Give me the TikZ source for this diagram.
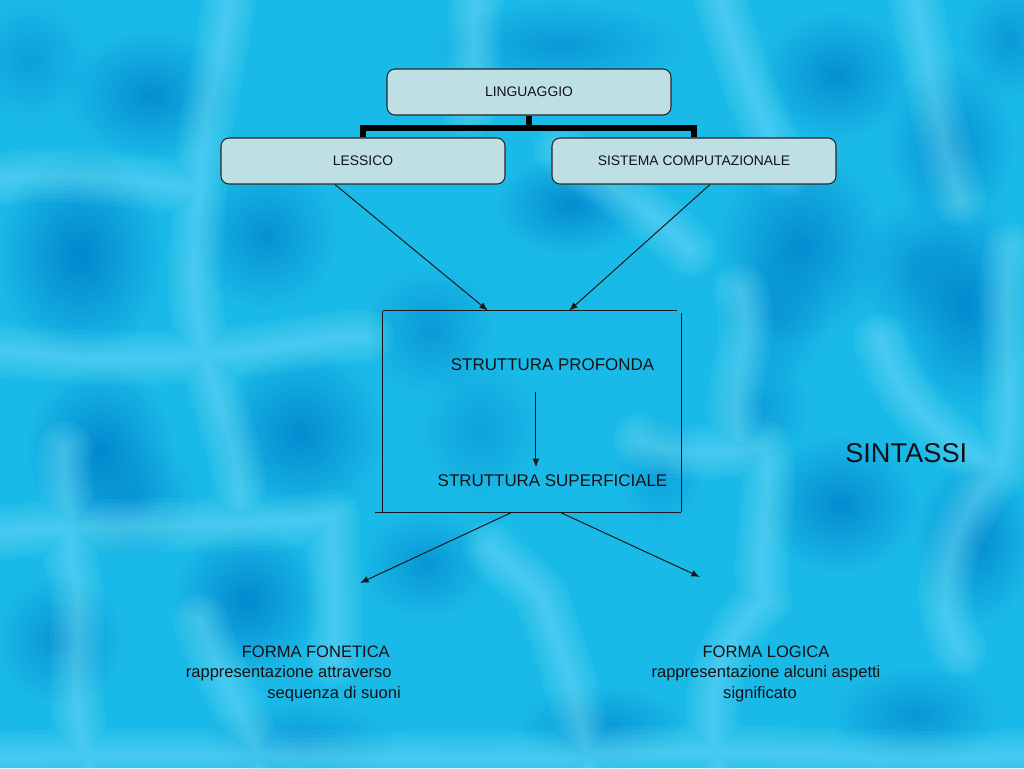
\documentclass[tikz,border=0pt]{standalone}
\usepackage{fontspec}
\setmainfont{Liberation Sans}
\usetikzlibrary{arrows.meta,fadings}
\tikzfading[name=blobfade, inner color=transparent!0, outer color=transparent!100]
\definecolor{bgbase}{RGB}{26,186,232}
\definecolor{blobdark}{RGB}{0,132,204}
\definecolor{veinlight}{RGB}{135,232,252}
\definecolor{boxfill}{RGB}{190,224,228}
\definecolor{textc}{RGB}{18,18,22}
\tikzset{
  topbox/.style={draw=black!85, fill=boxfill, rounded corners=6pt, line width=0.8pt,
    minimum width=213pt, minimum height=34.5pt, inner sep=0pt, text=textc,
    font=\fontsize{10.4}{12}\selectfont},
  bar/.style={line width=4.5pt, draw=black, line join=miter},
  arr/.style={draw=black!90, line width=0.75pt, -{Latex[length=6.5pt,width=5pt]}},
  frame/.style={draw=black!90, line width=0.75pt},
  midtext/.style={inner sep=0pt, text=textc, font=\fontsize{12.7}{15}\selectfont},
  lowtext/.style={inner sep=0pt, text=textc, font=\fontsize{12.4}{15}\selectfont},
  bigtext/.style={inner sep=0pt, text=textc, font=\fontsize{20.4}{24}\selectfont},
  blob/.style={fill=blobdark, path fading=blobfade},
  vein/.style={draw=veinlight, line cap=round, line join=round}
}
\begin{document}
\begin{tikzpicture}[x=0.75pt,y=-0.75pt]
\useasboundingbox (0,0) rectangle (1024,768);
% ---------- background ----------
\begin{scope}
\clip (0,0) rectangle (1024,768);
\fill[bgbase] (0,0) rectangle (1024,768);
\foreach \x/\y/\rx/\ry/\o in {
  150/95/85/65/0.8, 265/235/75/75/0.75, 80/255/85/105/0.95, 570/205/75/50/0.85,
  560/45/130/45/0.6, 836/75/75/65/0.8, 950/145/65/85/0.8, 800/245/85/95/0.85,
  965/305/65/105/0.9, 100/450/75/85/0.9, 300/433/85/85/0.85, 430/330/65/65/0.6,
  773/315/55/70/0.6, 917/268/60/70/0.6, 760/406/50/60/0.5, 840/504/80/70/0.85,
  975/540/60/85/0.85, 130/500/70/60/0.6, 247/600/75/75/0.9, 425/565/65/55/0.65,
  601/725/85/40/0.65, 915/715/85/50/0.65, 300/740/95/40/0.55, 60/640/65/65/0.7,
  660/470/45/60/0.45, 1010/40/50/60/0.6, 30/60/60/60/0.5, 480/430/60/70/0.45}
  {\fill[blob, fill opacity=\o] (\x,\y) ellipse [x radius=\rx, y radius=\ry];}
% soft light veins
\foreach \w in {54,46,38,30,22,14,7}{
  \draw[vein, line width=\w*0.75pt, draw opacity=0.075]
    (229,0) .. controls (220,70) and (200,130) .. (200,190)
            .. controls (195,260) and (190,300) .. (205,350)
    (0,180) .. controls (50,170) and (100,175) .. (200,190)
    (0,350) .. controls (80,360) and (150,360) .. (205,355)
            .. controls (280,350) and (330,335) .. (367,337)
    (205,355) .. controls (215,400) and (240,450) .. (240,500)
    (0,533) .. controls (100,520) and (250,530) .. (333,517)
    (333,517) .. controls (330,570) and (340,610) .. (333,660)
    (477,0) .. controls (470,40) and (480,80) .. (470,110)
    (720,0) .. controls (740,60) and (760,120) .. (785,170)
    (915,0) .. controls (930,70) and (940,140) .. (960,200)
    (65,448) .. controls (60,480) and (75,520) .. (70,560)
    (70,560) .. controls (90,620) and (60,680) .. (90,768)
    (490,548) .. controls (510,570) and (530,580) .. (542,598)
              .. controls (560,650) and (580,700) .. (588,768)
    (765,448) .. controls (775,500) and (755,550) .. (765,600)
    (765,600) .. controls (720,640) and (700,700) .. (720,768)
    (0,758) .. controls (250,750) and (450,765) .. (600,755)
            .. controls (750,745) and (900,765) .. (1024,755)
    (740,290) .. controls (760,340) and (720,390) .. (740,440)
    (1010,250) .. controls (1000,330) and (1020,400) .. (1000,470)
    (880,340) .. controls (900,400) and (940,440) .. (1000,470)
    (1000,470) .. controls (950,520) and (930,600) .. (960,650)
    (200,620) .. controls (220,680) and (250,720) .. (260,768)
    (560,150) .. controls (600,180) and (640,200) .. (690,250)
    (640,440) .. controls (680,460) and (720,450) .. (765,448);
}
\end{scope}
% ---------- tree ----------
\node[topbox] (ling) at (529,92) {LINGUAGGIO};
\node[topbox] (lessico) at (363,161) {LESSICO};
\node[topbox] (sistema) at (694,161) {SISTEMA COMPUTAZIONALE};
\draw[bar] (ling.south) -- (ling.south |- 0,128);
\draw[bar] (lessico.north) |- (sistema.north |- 0,128) -- (sistema.north);
% ---------- box ----------
\node[minimum width=223.5pt, minimum height=150.75pt, inner sep=0pt] (sbox) at (532,411.5) {};
\draw[frame] (sbox.north west) -- ([xshift=-3pt]sbox.north east);
\draw[frame] (sbox.north west) -- (sbox.south west);
\draw[frame] ([yshift=-1.5pt]sbox.north east) -- (sbox.south east);
\draw[frame] ([xshift=-6pt]sbox.south west) -- (sbox.south east);
\node[midtext, anchor=base] (sp) at (552.5,370) {STRUTTURA PROFONDA};
\node[midtext, anchor=base] (ss) at (552.5,486) {STRUTTURA SUPERFICIALE};
\draw[arr] ([xshift=-12.4pt,yshift=-16.5pt]sp.base) -- ([xshift=-12.4pt,yshift=14pt]ss.base);
% arrows into box
\draw[arr] ([xshift=-21pt]lessico.south) -- ([xshift=-33pt]sbox.north);
\draw[arr] ([xshift=12pt]sistema.south) -- ([xshift=27.75pt]sbox.north);
% arrows out of box
\coordinate (fftip) at (360,583);
\coordinate (fltip) at (700,577);
\draw[arr] ([xshift=-15pt]sbox.south) -- (fftip);
\draw[arr] ([xshift=21pt]sbox.south) -- (fltip);
% ---------- labels ----------
\node[bigtext, anchor=base west] (sintassi) at (845,462) {SINTASSI};
\node[lowtext, anchor=base east] (ff1) at (390,657.5) {FORMA FONETICA};
\node[lowtext, anchor=base east] (ff2) at (392,677.5) {rappresentazione attraverso};
\node[lowtext, anchor=base east] (ff3) at (401,698) {sequenza di suoni};
\node[lowtext, anchor=base] (fl1) at (766,657.5) {FORMA LOGICA};
\node[lowtext, anchor=base] (fl2) at (766,677.5) {rappresentazione alcuni aspetti};
\node[lowtext, anchor=base] (fl3) at (760,698) {significato};
\end{tikzpicture}
\end{document}
